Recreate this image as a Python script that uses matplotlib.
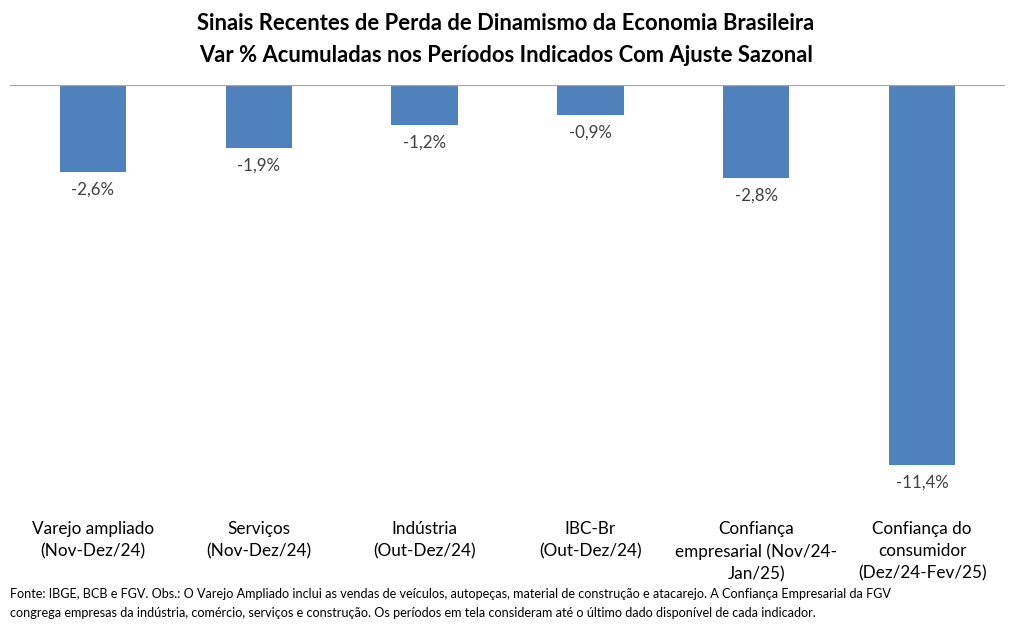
import matplotlib
matplotlib.use("Agg")
import matplotlib.pyplot as plt
from matplotlib.transforms import offset_copy

plt.rcParams['font.family'] = ['Lato', 'DejaVu Sans']

categorias = ["Varejo ampliado\n(Nov-Dez/24)", "Serviços\n(Nov-Dez/24)",
              "Indústria\n(Out-Dez/24)", "IBC-Br\n(Out-Dez/24)",
              "Confiança\nempresarial (Nov/24-\nJan/25)",
              "Confiança do\nconsumidor\n(Dez/24-Fev/25)"]
valores = [-2.6, -1.9, -1.2, -0.9, -2.8, -11.4]
rotulos = ["-2,6%", "-1,9%", "-1,2%", "-0,9%", "-2,8%", "-11,4%"]

fig = plt.figure(figsize=(10.12, 6.31), dpi=100)
W, H = 1012, 631
# axes: zero line at y=85px, -11.4 at y=465px
ax = fig.add_axes([10 / W, 1 - 465 / H, 995 / W, (465 - 85) / H])

x = list(range(len(valores)))
ax.bar(x, valores, width=0.4, color="#4F81BD", zorder=2)
ax.set_xlim(-0.5, 5.5)
ax.set_ylim(-11.4, 0)
ax.axhline(0, color="#A6A6A6", lw=1.6, zorder=3)

for xi, v, r in zip(x, valores, rotulos):
    tr = offset_copy(ax.transData, fig=fig, x=0, y=-7, units="points")
    ax.text(xi, v, r, transform=tr, ha="center", va="top", fontsize=12.2,
            color="#404040", clip_on=False)

ax.set_xticks(x)
ax.set_xticklabels(categorias, fontsize=12.3, linespacing=1.5)
ax.tick_params(axis="x", length=0, pad=40)
ax.set_yticks([])
for s in ax.spines.values():
    s.set_visible(False)

fig.text(0.5, 1 - 24 / H, "Sinais Recentes de Perda de Dinamismo da Economia Brasileira",
         ha="center", va="center", fontsize=15.8, fontweight="bold")
fig.text(0.5, 1 - 55 / H, "Var % Acumuladas nos Períodos Indicados Com Ajuste Sazonal",
         ha="center", va="center", fontsize=15.8, fontweight="bold")

fig.text(10 / W, 1 - 594 / H,
         "Fonte: IBGE, BCB e FGV. Obs.: O Varejo Ampliado inclui as vendas de veículos, autopeças, "
         "material de construção e atacarejo. A Confiança Empresarial da FGV",
         ha="left", va="center", fontsize=9.1)
fig.text(10 / W, 1 - 613 / H,
         "congrega empresas da indústria, comércio, serviços e construção. Os períodos em tela "
         "consideram até o último dado disponível de cada indicador.",
         ha="left", va="center", fontsize=9.1)

fig.savefig("out.png", dpi=100)
